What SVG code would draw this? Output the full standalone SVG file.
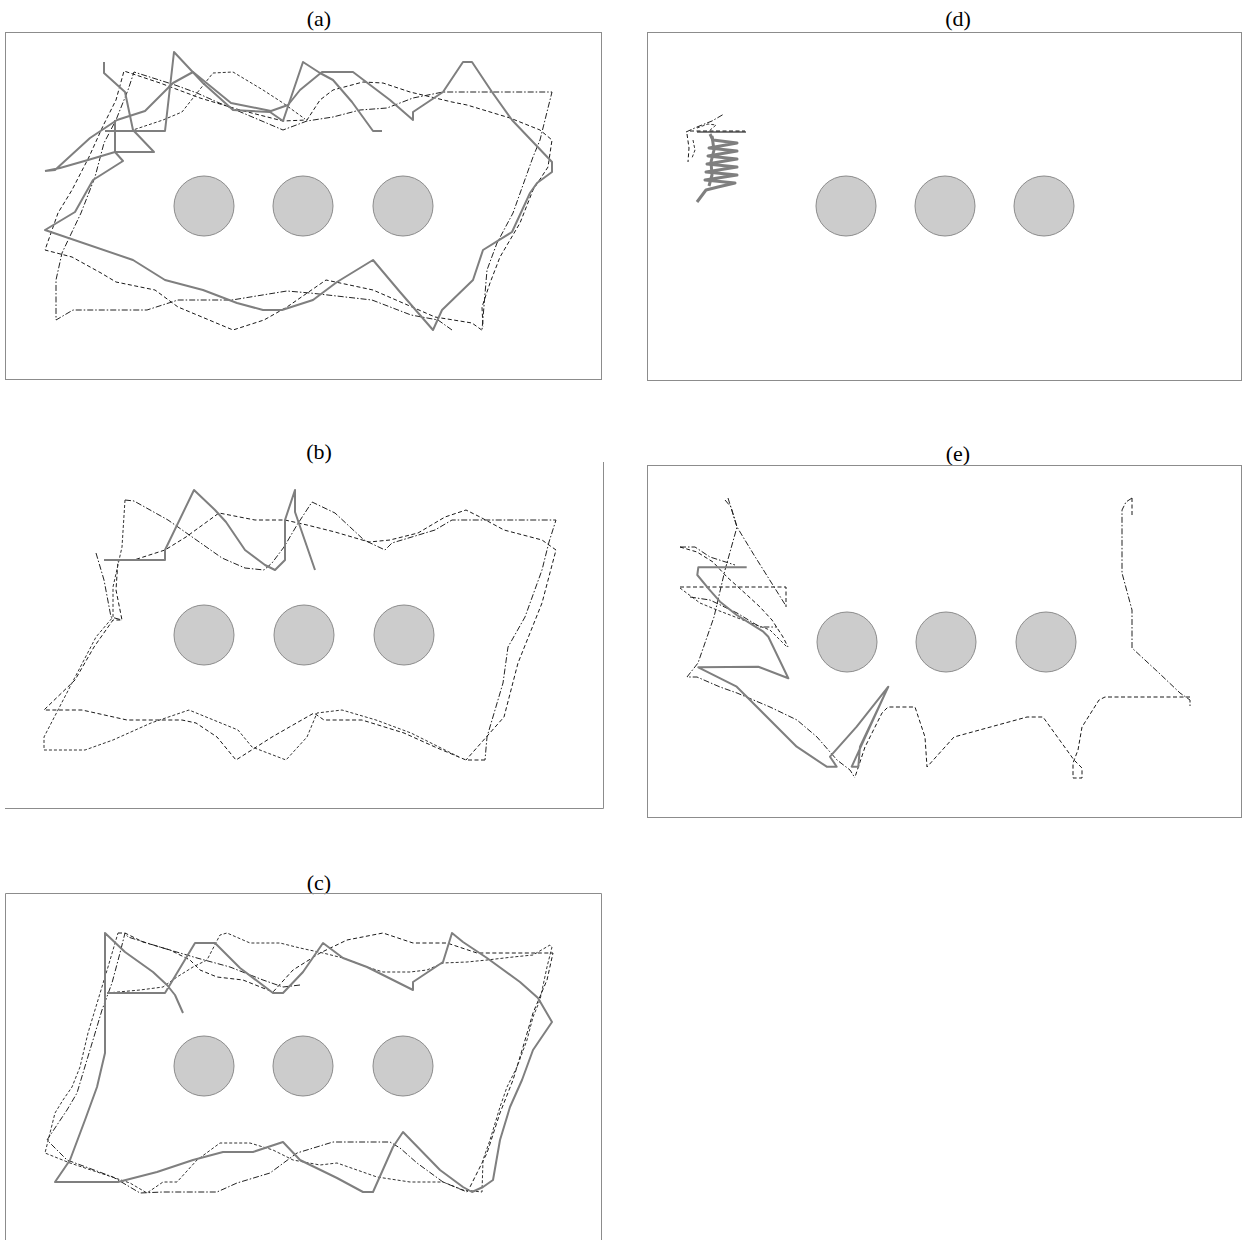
<svg xmlns="http://www.w3.org/2000/svg" width="1254" height="1240" viewBox="0 0 1254 1240">
<style>
.box{fill:none;stroke:#8c8c8c;stroke-width:1}
.circ{fill:#cccccc;stroke:#8c8c8c;stroke-width:1}
.sol{fill:none;stroke:#7f7f7f;stroke-width:2;stroke-linejoin:round}
.d1{fill:none;stroke:#1a1a1a;stroke-width:1;stroke-dasharray:4 2.5}
.d2{fill:none;stroke:#222;stroke-width:1;stroke-dasharray:6 2 1.5 2}
.d3{fill:none;stroke:#333;stroke-width:1;stroke-dasharray:3 2}
.t{font-family:"Liberation Serif","Times New Roman",serif;font-size:22px;text-anchor:middle;fill:#000}
</style>
<rect width="1254" height="1240" fill="#fff"/>

<g id="panel-a">
<text class="t" x="319" y="26">(a)</text>
<rect class="box" x="5.5" y="32.5" width="596" height="347"/>
<circle class="circ" cx="204" cy="206" r="30"/>
<circle class="circ" cx="303" cy="206" r="30"/>
<circle class="circ" cx="403" cy="206" r="30"/>
<polyline class="d1" points="481.7,330 472,323 435,317 396,300 373,290 326,280 287,307 264,320 233,330 178,307 155,290 116,282 101,273 72,257 45,250 58,213 72,190 89,157 103,126 116,100 124,71 160,83 200,98 240,110 283,121 307,120 320,100 333,90 363,82 383,83 410,92 452,102 467,105 510,118 540,130 552,140 548,167 533,190 520,223 500,257 490,283 482,307 483,327"/>
<polyline class="d2" points="452,330 438,320 411,315 372,300 310,293 287,291 232,300 178,300 147,310 73,310 56,320 56,280 62,253 81,213 95,177 104,143 116,120 128,90 134,72 175,85 197,93 217,102 283,130 307,121 333,117 360,110 387,108 413,98 443,92 493,92 552,92 540,140 533,157 513,213 497,243 487,270 482,330"/>
<polyline class="d3" points="130,131 163,120 182,112 197,93 213,73 233,72 263,90 283,103 305,119"/>
<polyline class="sol" points="104,62 104,73 125,92 133,130 154,152 115,152 115,120"/>
<polyline class="sol" points="105,131 165,131 174,52 203,83 233,110 270,112 283,121 303,62 320,73 333,80 352,102 373,131 382,131"/>
<polyline class="sol" points="45,171 60,168 88,160 115,152 123,161 93,180 75,212 45,230 133,260 165,280 203,290 237,303 263,310 282,310 313,300 337,282 373,260 400,292 433,330 442,310 473,280 483,250 512,232 530,193 537,183 552,172 552,162 512,120 492,92 472,62 463,62 443,92 413,112 413,120 390,100 353,72 322,72 300,90 288,105 271,111 231,103 193,72 173,83 145,111 117,120 90,138 55,170 45,171"/>
</g>

<g id="panel-b">
<text class="t" x="319" y="459">(b)</text>
<polyline class="box" points="603.5,462 603.5,808.5 5,808.5"/>
<circle class="circ" cx="204" cy="635" r="30"/>
<circle class="circ" cx="304" cy="635" r="30"/>
<circle class="circ" cx="404" cy="635" r="30"/>
<polyline class="d1" points="485,760 466,760 435,747 404,733 362,720 324,720 314,713 272,737 236,760 217,737 196,723 182,720 127,720 82,710 44,710 75,680 94,647 113,620 122,620 116,590 118,560 134,560 165,550 186,537 219,513 255,520 285,520 307,525 335,532 369,542 390,540 418,533 445,517 466,510 480,517 504,530 542,540 556,550 542,603 518,663 504,717 466,760"/>
<polyline class="d3" points="125,500 122,547 113,587 113,617 96,637 72,683 44,737 44,750 85,750 113,740 151,723 189,710 238,730 252,747 286,760 307,737 317,713 342,710 376,720 411,733 459,757"/>
<polyline class="d2" points="96,553 104,580 111,617 122,620"/>
<polyline class="d2" points="125,500 134,501 168,520 222,558 245,568 264,570 272,563 284,547 297,525 312,502 335,513 364,540 385,550 392,543 435,530 452,520 556,520 549,542 542,570 525,617 508,647 503,683 487,737 485,760"/>
<polyline class="sol" points="104,560 165,560 165,550 194,490 215,510 226,522 245,550 265,565 275,570 285,560 285,520 295,490 295,512 315,570"/>
</g>

<g id="panel-c">
<text class="t" x="319" y="890">(c)</text>
<polyline class="box" points="5.5,1245 5.5,893.5 601.5,893.5 601.5,1245"/>
<circle class="circ" cx="204" cy="1066" r="30"/>
<circle class="circ" cx="303" cy="1066" r="30"/>
<circle class="circ" cx="403" cy="1066" r="30"/>
<polyline class="d1" points="118,933 125,933 143,942 170,950 190,960 200,970 217,977 243,980 273,992 293,970 320,953 347,940 383,933 413,943 447,943 477,953 553,953 547,980 533,1013 523,1047 513,1080 500,1113 487,1153 470,1187 467,1192"/>
<polyline class="d3" points="107,993 140,990 163,987 177,977 193,967 207,960 220,935 227,933 250,943 280,943 300,948 323,953 343,958 367,967 383,972 410,972 427,970 443,963 467,962 487,960 513,957 533,955 550,945 552,947 547,967 540,1000 533,1017 527,1040 517,1067 507,1087 500,1107 490,1140 483,1160 482,1192 463,1190 443,1182 410,1182 377,1177 337,1163 320,1165 293,1160 273,1150 250,1143 220,1143 197,1160 177,1182 163,1182 147,1193 130,1183 100,1173 70,1163 45,1153 55,1113 63,1100 72,1087 80,1067 88,1033 98,1000 108,967 118,933"/>
<polyline class="d2" points="300,985 283,987 263,980 230,967 197,958 163,948 128,937 125,933 120,953 112,983 102,1010 93,1040 83,1073 77,1093 67,1110 47,1140 67,1160 113,1177 140,1193 163,1192 217,1192 237,1183 270,1173 297,1153 333,1142 390,1142 400,1148 417,1163 443,1182 467,1192"/>
<polyline class="sol" points="183,1013 175,995 167,985 153,972 125,952 105,933 105,1053 97,1087 85,1120 70,1160 55,1182 118,1182 157,1172 193,1160 223,1152 253,1152 283,1142 300,1160 337,1178 363,1192 373,1192 393,1147 403,1132 440,1170 463,1187 472,1192 483,1187 493,1180 500,1140 510,1107 522,1080 533,1050 552,1022 538,998 520,982 487,958 463,942 452,933 443,962 413,982 413,990 367,967 343,958 323,943 303,972 283,993 273,993 240,968 215,943 195,943 165,993 107,993"/>
</g>

<g id="panel-d">
<text class="t" x="958" y="26">(d)</text>
<rect class="box" x="647.5" y="32.5" width="594" height="348"/>
<circle class="circ" cx="846" cy="206" r="30"/>
<circle class="circ" cx="945" cy="206" r="30"/>
<circle class="circ" cx="1044" cy="206" r="30"/>
<polyline class="sol" points="697,132 746,132"/>
<polyline class="sol" style="stroke-width:3" points="710,134 713,140 737,143 709,148 737,151 708,156 737,159 707,164 737,167 706,172 737,175 705,180 735,183 718,187 706,190 697,202"/>
<polyline class="sol" style="stroke-width:3" points="712,136 714,150 711,162 712,175 709,186"/>
<polyline class="d1" points="690,131 745,131"/>
<polyline class="d2" points="686,132 697,127 712,121 724,114"/>
<polyline class="d1" points="687,134 689,148 688,162"/>
<polyline class="d3" points="693,140 695,150 692,158"/>
<polyline class="d3" points="697,128 708,124 716,125 708,132"/>
</g>

<g id="panel-e">
<text class="t" x="958" y="461">(e)</text>
<rect class="box" x="647.5" y="465.5" width="594" height="352"/>
<circle class="circ" cx="847" cy="642" r="30"/>
<circle class="circ" cx="946" cy="642" r="30"/>
<circle class="circ" cx="1046" cy="642" r="30"/>
<polyline class="d2" points="725,500 731,507 737,527 754,555 776,590 786,606"/>
<polyline class="d2" points="728,498 737,527 725,570 714,617 698,663 687,677 697,677 720,687 737,693 770,707 797,720 817,737 837,760 850,770 855,778"/>
<polyline class="d1" points="680,587 786,587 786,607"/>
<polyline class="d2" points="680,547 695,547 710,557 735,565"/>
<polyline class="d1" points="680,547 697,552 713,562 727,577 747,595 760,607 772,620 783,637 788,647"/>
<polyline class="d3" points="680,588 700,603 717,610 743,620 770,630 780,640 787,647"/>
<polyline class="d2" points="690,597 710,600 737,613 760,627 777,627"/>
<polyline class="d2" points="1132,498 1126,502 1122,510 1122,573 1132,610 1132,648 1159,673 1180,693 1190,700 1190,707"/>
<polyline class="d1" points="1132,498 1132,517"/>
<polyline class="d1" points="1190,697 1105,697 1099,700 1082,727 1078,750 1073,763 1073,778 1082,778 1082,768 1074,760 1043,717 1027,717 954,737 927,767 925,737 915,707 888,707 882,713 865,747 855,777"/>
<polyline class="sol" points="746.7,567.3 698.3,567.3 697.3,575 708.3,588.3 720,601.7 736.7,615 763.3,631.7 768.3,636.7 788.3,678.3 758.3,666.7 698.3,667.3 736.7,686.7 750,700 796.7,746.7 826.7,766.7 836.7,766.7 830,756.7 856.7,726.7 888.3,686.7 851.7,766.7 858.3,766.7 860,746.7 888.3,686.7"/>
</g>

<g id="connectors"></g>
</svg>
